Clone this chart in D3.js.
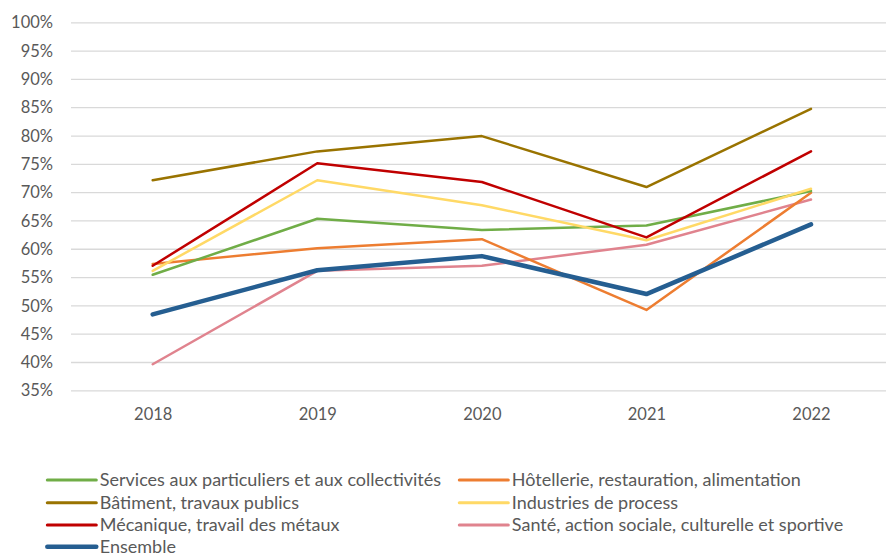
<!DOCTYPE html>
<html><head><meta charset="utf-8">
<script src="https://cdn.jsdelivr.net/npm/d3@7"></script>
<style>html,body{margin:0;padding:0;background:#fff;}svg{display:block;}</style>
</head><body>
<svg id="c" width="886" height="554"></svg>
<script>
const years = ["2018","2019","2020","2021","2022"];
const yTicks = [35,40,45,50,55,60,65,70,75,80,85,90,95,100];
const seriesNames = [
  "Services aux particuliers et aux collectivités",
  "Hôtellerie, restauration, alimentation",
  "Bâtiment, travaux publics",
  "Industries de process",
  "Mécanique, travail des métaux",
  "Santé, action sociale, culturelle et sportive",
  "Ensemble"
];
const services   = [55.4, 65.3, 63.3, 64.1, 70.2];
const hotellerie = [57.3, 60.1, 61.7, 49.2, 69.9];
const batiment   = [72.1, 77.2, 79.9, 70.9, 84.7];
const industries = [56.1, 72.1, 67.7, 61.5, 70.6];
const mecanique  = [57.0, 75.1, 71.8, 62.0, 77.2];
const sante      = [39.6, 56.1, 57.0, 60.7, 68.7];
const ensemble   = [48.4, 56.2, 58.7, 52.0, 64.3];

const colors = ["#70AD47","#ED7D31","#997300","#FFD966","#C00000","#E0838E","#255E91"];
const widths = [2.5,2.5,2.5,2.5,2.5,2.5,4.5];
const values = [services,hotellerie,batiment,industries,mecanique,sante,ensemble];
const drawOrder = [5,1,0,3,4,2,6];

const svg = d3.select("#c");
const font = "Lato, 'Open Sans', sans-serif";
const plotLeft = 71, plotRight = 886, plotTop = 22.3, plotBottom = 390.3;

const x = d3.scalePoint().domain(years).range([152.7, 811]);
const y = d3.scaleLinear().domain([35,100]).range([plotBottom, plotTop]);

const yAxis = d3.axisLeft(y).tickValues(yTicks).tickSize(-(plotRight-plotLeft)).tickFormat(d => d + "%").tickPadding(18);
const gy = svg.append("g").attr("transform", `translate(${plotLeft},0)`).call(yAxis);
gy.select(".domain").remove();
gy.selectAll(".tick line").attr("stroke","#D9D9D9").attr("stroke-width",1.3);
gy.selectAll(".tick text").attr("fill","#595959").style("font-family",font).style("font-size","16.5px").attr("x",-18).attr("dy","0.34em");

const xAxis = d3.axisBottom(x).tickSize(0).tickPadding(18);
const gx = svg.append("g").attr("transform", `translate(0,${plotBottom})`).call(xAxis);
gx.select(".domain").remove();
gx.selectAll(".tick text").attr("fill","#595959").style("font-family",font).style("font-size","16.5px");

const line = d3.line().x((d,i) => x(years[i])).y(d => y(d));
drawOrder.forEach(k => {
  svg.append("path").datum(values[k]).attr("d", line)
    .attr("fill","none").attr("stroke",colors[k]).attr("stroke-width",widths[k])
    .attr("stroke-linejoin","round").attr("stroke-linecap","round");
});

const legendPos = [
  [47.3,480],[459.3,480],
  [47.3,502.7],[459.3,502.7],
  [47.3,525],[459.3,525],
  [47.3,546.7]
];
seriesNames.forEach((name,k) => {
  const [lx,ly] = legendPos[k];
  const g = svg.append("g");
  g.append("line").attr("x1",lx).attr("x2",lx+49).attr("y1",ly).attr("y2",ly)
    .attr("stroke",colors[k]).attr("stroke-width",k===6?4.5:3).attr("stroke-linecap","round");
  g.append("text").attr("x",lx+52.5).attr("y",ly).attr("dy","0.35em")
    .attr("fill","#595959").style("font-family",font).style("font-size","18px").text(name);
});
</script>
</body></html>
